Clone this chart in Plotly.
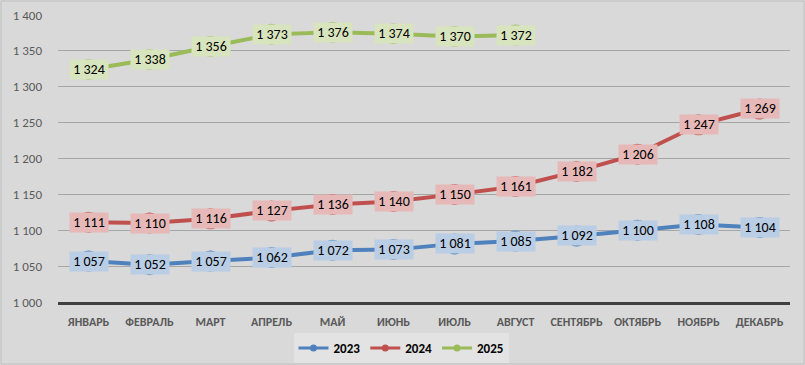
import plotly.graph_objects as go

months = ["ЯНВАРЬ", "ФЕВРАЛЬ", "МАРТ", "АПРЕЛЬ", "МАЙ", "ИЮНЬ", "ИЮЛЬ",
          "АВГУСТ", "СЕНТЯБРЬ", "ОКТЯБРЬ", "НОЯБРЬ", "ДЕКАБРЬ"]
v2023 = [1057, 1052, 1057, 1062, 1072, 1073, 1081, 1085, 1092, 1100, 1108, 1104]
v2024 = [1111, 1110, 1116, 1127, 1136, 1140, 1150, 1161, 1182, 1206, 1247, 1269]
v2025 = [1324, 1338, 1356, 1373, 1376, 1374, 1370, 1372]
series_names = ["2023", "2024", "2025"]
line_colors = ["#4f81bd", "#c0504d", "#9bbb59"]
label_colors = ["#b9cde5", "#e6b9b8", "#d7e4bd"]
y_ticks = [1000, 1050, 1100, 1150, 1200, 1250, 1300, 1350, 1400]

FONT = "Carlito, Liberation Sans Narrow, Roboto, sans-serif"

fig = go.Figure()
annotations = []
for name, vals, lc, bc in zip(series_names, [v2023, v2024, v2025], line_colors, label_colors):
    xs = months[:len(vals)]
    fig.add_trace(go.Scatter(
        x=xs, y=vals, name=name, mode="lines+markers",
        line=dict(color=lc, width=4),
        marker=dict(color=lc, size=21),
        hoverinfo="skip", showlegend=False,
    ))
    # legend-only entry with a small marker
    fig.add_trace(go.Scatter(
        x=[None], y=[None], name=name, mode="lines+markers",
        line=dict(color=lc, width=3),
        marker=dict(color=lc, size=7),
        hoverinfo="skip", showlegend=True,
    ))
    for x, v in zip(xs, vals):
        annotations.append(dict(
            x=x, y=v, xref="x", yref="y", showarrow=False,
            text=f"{v:,}".replace(",", " "),
            bgcolor=bc, borderpad=1, width=36, height=17,
            font=dict(family=FONT, size=14, color="#000000"),
        ))

W, H = 805, 365
ml, mr, mt, mb = 58, 15, 15, 63
pw, ph = W - ml - mr, H - mt - mb

fig.update_layout(
    width=W, height=H,
    margin=dict(l=ml, r=mr, t=mt, b=mb, autoexpand=False),
    paper_bgcolor="#d9d9d9", plot_bgcolor="#d9d9d9",
    separators=", ",
    showlegend=True,
    legend=dict(orientation="h", x=(401 - ml) / pw, xanchor="center",
                y=-(333 - mt - ph) / ph, yanchor="top",
                bgcolor="#e3e3e3",
                font=dict(family=FONT, size=13, color="#000000", weight="bold"),
                itemwidth=30, tracegroupgap=0),
    annotations=annotations,
    font=dict(family=FONT),
    xaxis=dict(
        type="category", categoryorder="array", categoryarray=months,
        range=[-0.5, 11.5], showgrid=False,
        showline=True, linecolor="#404040", linewidth=2.5,
        ticks="", tickfont=dict(family=FONT, size=12, color="#595959", weight="bold"),
        ticklabelstandoff=7, fixedrange=True,
    ),
    yaxis=dict(
        range=[1000, 1400], tickvals=y_ticks, tickformat=",d",
        showgrid=True, gridcolor="#a6a6a6", gridwidth=1, zeroline=False,
        showline=False, ticks="",
        tickfont=dict(family=FONT, size=13, color="#595959"),
        ticklabelstandoff=15, fixedrange=True,
    ),
    shapes=[dict(type="rect", xref="paper", yref="paper",
                 x0=-(ml - 1) / pw, x1=1 + (mr - 1) / pw,
                 y0=-(mb - 1) / ph, y1=1 + (mt - 1) / ph,
                 line=dict(color="#bfbfbf", width=1), layer="below")],
)

fig.write_html("out.html", config={"displayModeBar": False},
               post_script="document.body.style.margin='0';document.body.style.overflow='hidden';")
